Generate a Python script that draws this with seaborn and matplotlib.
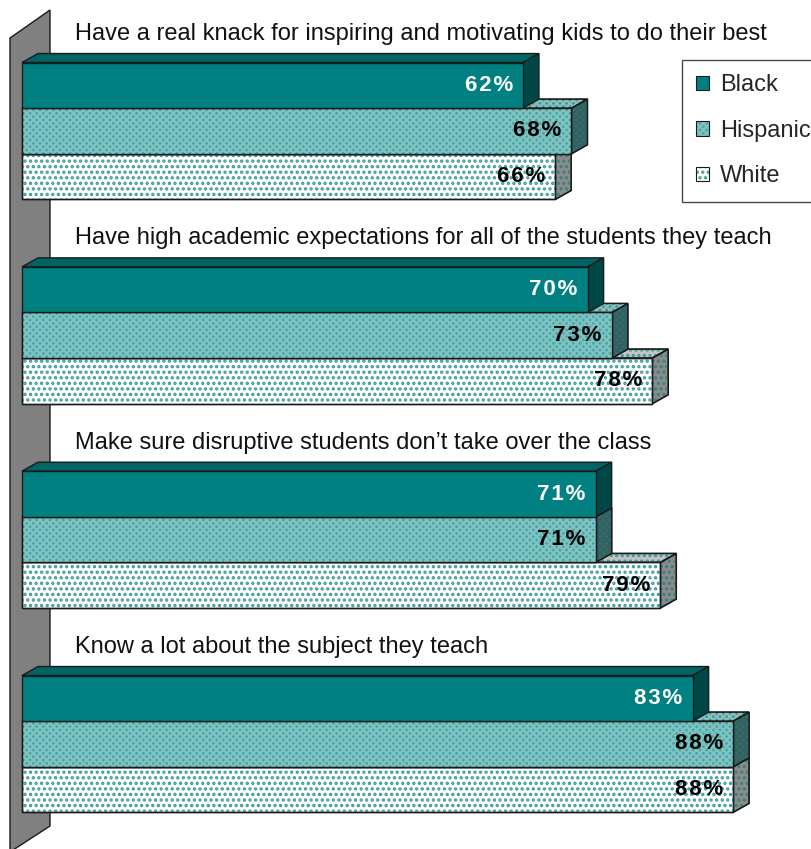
import numpy as np
import pandas as pd
import matplotlib
matplotlib.use("Agg")
import matplotlib.pyplot as plt
from matplotlib.patches import Polygon, Rectangle, Patch
import seaborn as sns

sns.set_theme(style="white")
plt.rcParams["font.family"] = ["Liberation Sans", "DejaVu Sans"]
plt.rcParams["hatch.linewidth"] = 1.6

questions = [
    "Have a real knack for inspiring and motivating kids to do their best",
    "Have high academic expectations for all of the students they teach",
    "Make sure disruptive students don\u2019t take over the class",
    "Know a lot about the subject they teach",
]
groups = ["Black", "Hispanic", "White"]
black = [62, 70, 71, 83]
hispanic = [68, 73, 71, 88]
white = [66, 78, 79, 88]

df = pd.DataFrame({
    "question": questions * 3,
    "group": np.repeat(groups, len(questions)),
    "pct": black + hispanic + white,
})

# per-group styling: front, top, side colours, hatch and hatch colour
front_col = {"Black": "#008080", "Hispanic": "#4aa5a5", "White": "#ffffff"}
top_col = {"Black": "#006464", "Hispanic": "#5a8c8c", "White": "#c4c4c4"}
side_col = {"Black": "#004848", "Hispanic": "#3d6a6a", "White": "#8c8c8c"}
hatch = {"Black": None, "Hispanic": "xxxxx", "White": "..."}
hatch_col = {"Black": None, "Hispanic": "#7fc2c2", "White": "#3a9a9a"}
side_hatch_col = {"Hispanic": "#2f6262", "White": "#3a8080"}
label_col = {"Black": "white", "Hispanic": "black", "White": "black"}

W, H = 812, 849
fig = plt.figure(figsize=(W / 100, H / 100), dpi=100)
ax = fig.add_axes([0, 0, 1, 1])
ax.patch.set_alpha(0)


def px(x, y):
    return (x / 100, (H - y) / 100)


# back wall behind the bars
ax.add_patch(Polygon([px(10, 38), px(50, 10), px(50, 826), px(10, 852)],
                     closed=True, facecolor="#808080", edgecolor="#1a1a1a",
                     linewidth=1, transform=fig.dpi_scale_trans, zorder=0.5,
                     clip_on=False))

sns.barplot(data=df, x="pct", y="question", hue="group", order=questions,
            hue_order=groups, orient="h", width=0.67, dodge=True,
            palette=front_col, saturation=1, edgecolor="#1a1a1a",
            linewidth=1, legend=False, errorbar=None, ax=ax)

ax.set_xlim(-2.72, 97.77)
ax.set_ylim(3.514, -0.641)
ax.axis("off")

px_x = W / (97.77 + 2.72)
px_y = H / (3.514 + 0.641)
dx = 16 / px_x
dy = 9 / px_y
HS = "\u200a"

for gi, (g, cont) in enumerate(zip(groups, ax.containers)):
    z = 10 - 2 * gi
    for p, val in zip(cont.patches, cont.datavalues):
        p.set_zorder(z)
        x0 = p.get_x()
        x1 = x0 + p.get_width()
        yt = p.get_y()
        yb = yt + p.get_height()
        top = Polygon([(x0, yt), (x0 + dx, yt - dy), (x1 + dx, yt - dy), (x1, yt)],
                      closed=True, facecolor=top_col[g], edgecolor="#1a1a1a",
                      linewidth=1, zorder=z - 0.5)
        side = Polygon([(x1, yt), (x1 + dx, yt - dy), (x1 + dx, yb - dy), (x1, yb)],
                       closed=True, facecolor=side_col[g], edgecolor="#1a1a1a",
                       linewidth=1, zorder=z - 0.5)
        ax.add_patch(top)
        ax.add_patch(side)
        if hatch[g]:
            ax.add_patch(Polygon(top.get_xy(), closed=True, facecolor="none",
                                 edgecolor=hatch_col[g], linewidth=0,
                                 hatch=hatch[g], zorder=z - 0.4))
            ax.add_patch(Polygon(side.get_xy(), closed=True, facecolor="none",
                                 edgecolor=side_hatch_col[g], linewidth=0,
                                 hatch=hatch[g], zorder=z - 0.4))
            ax.add_patch(Polygon(top.get_xy(), closed=True, facecolor="none",
                                 edgecolor="#1a1a1a", linewidth=1, zorder=z - 0.3))
            ax.add_patch(Polygon(side.get_xy(), closed=True, facecolor="none",
                                 edgecolor="#1a1a1a", linewidth=1, zorder=z - 0.3))
            ax.add_patch(Rectangle((x0, yt), x1 - x0, yb - yt, facecolor="none",
                                   edgecolor=hatch_col[g], linewidth=0,
                                   hatch=hatch[g], zorder=z + 0.1))
            ax.add_patch(Rectangle((x0, yt), x1 - x0, yb - yt, facecolor="none",
                                   edgecolor="#1a1a1a", linewidth=1, zorder=z + 0.2))
        label = HS.join(f"{val:.0f}%")
        ax.text(val - 10 / px_x, (yt + yb) / 2, label, ha="right",
                va="center", fontsize=16, fontweight="bold", color=label_col[g],
                zorder=z + 0.5)

for i, q in enumerate(questions):
    ax.text(53 / px_x, i - 0.475, q, ha="left", va="center", fontsize=17,
            color="#111111")

handles = []
for g in groups:
    if hatch[g]:
        handles.append((Patch(facecolor=front_col[g], edgecolor=hatch_col[g],
                              linewidth=0, hatch=hatch[g]),
                        Patch(facecolor="none", edgecolor="#1a1a1a", linewidth=0.8)))
    else:
        handles.append(Patch(facecolor=front_col[g], edgecolor="#1a1a1a",
                             linewidth=0.8))
leg = fig.legend(handles, groups, loc="upper left",
                 bbox_to_anchor=(682 / W, 1 - 60 / H), bbox_transform=fig.transFigure,
                 borderaxespad=0, frameon=True, fancybox=False, fontsize=17,
                 handlelength=0.55, handleheight=0.55, handletextpad=0.45,
                 labelspacing=1.0, borderpad=0.6)
leg.get_frame().set_edgecolor("#1a1a1a")
leg.get_frame().set_linewidth(1)

fig.savefig("out.png", dpi=100)
